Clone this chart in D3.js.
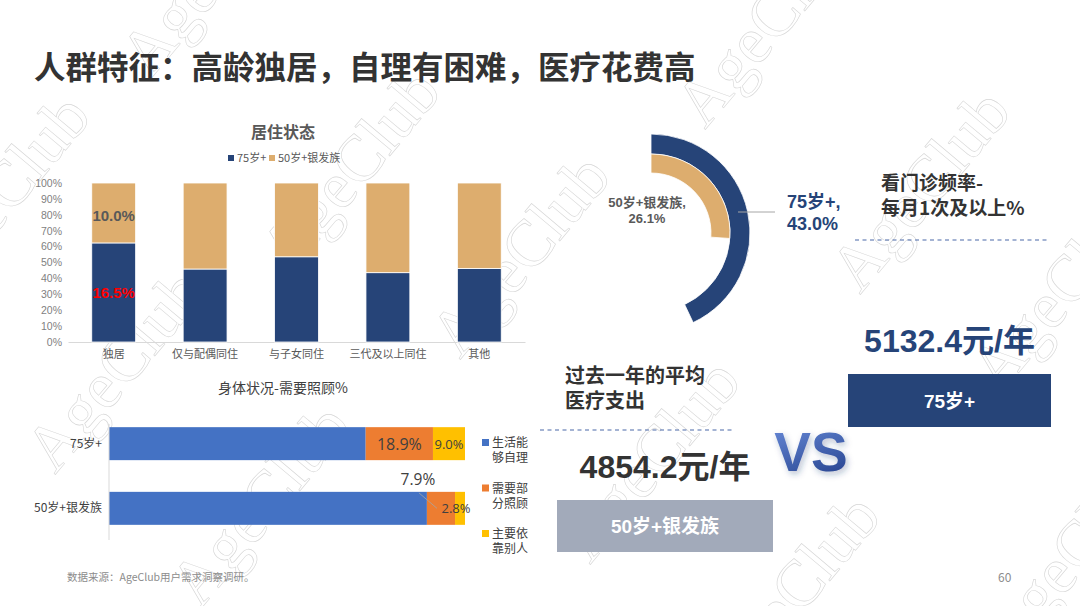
<!DOCTYPE html>
<html>
<head>
<meta charset="utf-8">
<script src="https://cdn.jsdelivr.net/npm/d3@7"></script>
<style>
  body { margin: 0; background: #fff; }
  svg { display: block; }
</style>
</head>
<body>
<svg id="chart"></svg>
<script>
// 居住状态 (100% stacked, shares of each group)
var livingCats = ['独居', '仅与配偶同住', '与子女同住', '三代及以上同住', '其他'];
var living75 = [62.3, 45.9, 53.6, 43.6, 46.3];
var living50 = [37.7, 54.1, 46.4, 56.4, 53.7];
var livingSeries = ['75岁+', '50岁+银发族'];
var livingRawLabels = ['16.5%', '10.0%'];   // raw values shown on 独居

// 身体状况-需要照顾%
var careGroups = ['75岁+', '50岁+银发族'];
var careSelf = [72.1, 89.3];
var carePart = [18.9, 7.9];
var careRely = [9.0, 2.8];
var careLegend = [['生活能', '够自理'], ['需要部', '分照顾'], ['主要依', '靠别人']];

// 看门诊频率-每月1次及以上%
var visitGroups = ['75岁+', '50岁+银发族'];
var visitValues = [43.0, 26.1];

// 过去一年的平均医疗支出
var spendGroups = ['75岁+', '50岁+银发族'];
var spendValues = [5132.4, 4854.2];

// watermark anchors
var marks = [[150, 80], [290, 275], [705, 130], [-60, 300], [55, 475], [460, 360],
             [860, 295], [200, 610], [590, 565], [1000, 395], [730, 700], [1010, 660]];

var W = 1080, H = 606;
var NAVY = '#264478', TAN = '#DDAD6E';
var CJK = '"Noto Sans CJK SC", "Noto Sans", sans-serif';
var LAT = '"Liberation Sans", "Noto Sans CJK SC", sans-serif';

var svg = d3.select('#chart').attr('width', W).attr('height', H);
svg.append('rect').attr('width', W).attr('height', H).attr('fill', '#fff');

var defs = svg.append('defs');
var grad = defs.append('linearGradient').attr('id', 'vsGrad')
  .attr('x1', 0).attr('y1', 0).attr('x2', 0.4).attr('y2', 1);
grad.append('stop').attr('offset', '0%').attr('stop-color', '#6A8CDA');
grad.append('stop').attr('offset', '100%').attr('stop-color', '#2C4A96');
var shadow = defs.append('filter').attr('id', 'vsShadow')
  .attr('x', '-20%').attr('y', '-20%').attr('width', '150%').attr('height', '160%');
shadow.append('feDropShadow').attr('dx', 2).attr('dy', 3).attr('stdDeviation', 3)
  .attr('flood-color', '#1f3770').attr('flood-opacity', 0.3);

// watermarks
svg.append('g').selectAll('text')
  .data(marks)
  .enter()
  .append('text')
  .attr('transform', d => `translate(${d[0]}, ${d[1]}) rotate(-50)`)
  .attr('font-family', '"Liberation Serif", "DejaVu Serif", serif')
  .attr('font-size', 66)
  .attr('fill', 'none')
  .attr('stroke', '#d6d6d6')
  .attr('stroke-width', 0.6)
  .text('AgeClub');

// page title
svg.append('text')
  .attr('x', 34).attr('y', 79)
  .attr('font-family', CJK).attr('font-weight', 700).attr('font-size', 31.5)
  .attr('fill', '#333')
  .text('人群特征：高龄独居，自理有困难，医疗花费高');

// ---------- 居住状态 ----------
var g1 = svg.append('g');
var x1 = d3.scaleBand().domain(livingCats).range([68, 525]).paddingInner(0.52).paddingOuter(0.26);
var y1 = d3.scaleLinear().domain([0, 100]).range([342, 183]);

g1.append('text')
  .attr('x', 283).attr('y', 138).attr('text-anchor', 'middle')
  .attr('font-family', CJK).attr('font-weight', 700).attr('font-size', 16)
  .attr('fill', '#595959').text('居住状态');

var leg1 = g1.append('g').attr('font-family', CJK).attr('font-size', 11).attr('fill', '#595959');
var legX = [228, 269];
livingSeries.forEach(function(s, i) {
  leg1.append('rect').attr('x', legX[i]).attr('y', 155).attr('width', 6).attr('height', 6)
    .attr('fill', i === 0 ? NAVY : TAN);
  leg1.append('text').attr('x', legX[i] + 9).attr('y', 162).text(s);
});

g1.append('g')
  .attr('transform', 'translate(68, 0)')
  .call(d3.axisLeft(y1).ticks(10).tickSize(0).tickPadding(6).tickFormat(d => d + '%'))
  .call(g => g.select('.domain').remove())
  .selectAll('text')
  .attr('font-family', LAT).attr('font-size', 10.5).attr('fill', '#7f7f7f');

g1.append('g')
  .attr('transform', 'translate(0, 342)')
  .call(d3.axisBottom(x1).tickSize(0).tickPadding(8))
  .call(g => g.select('.domain').attr('stroke', '#d9d9d9'))
  .selectAll('text')
  .attr('font-family', CJK).attr('font-size', 11).attr('fill', '#595959');

var livingRows = livingCats.map((c, i) => ({cat: c, a: living75[i], b: living50[i]}));
var livingStack = d3.stack().keys(['a', 'b'])(livingRows);
g1.selectAll('g.ser')
  .data(livingStack)
  .enter()
  .append('g')
  .attr('class', 'ser')
  .attr('fill', (d, i) => i === 0 ? NAVY : TAN)
  .selectAll('rect')
  .data(d => d)
  .enter()
  .append('rect')
  .attr('x', d => x1(d.data.cat))
  .attr('width', x1.bandwidth())
  .attr('y', d => y1(d[1]))
  .attr('height', d => y1(d[0]) - y1(d[1]))
  .attr('stroke', '#fff')
  .attr('stroke-width', 0.8);

var first = livingStack.map(s => s[0]);
g1.append('text')
  .attr('x', x1(livingCats[0]) + x1.bandwidth() / 2)
  .attr('y', y1((first[0][0] + first[0][1]) / 2) + 6)
  .attr('text-anchor', 'middle')
  .attr('font-family', LAT).attr('font-weight', 700).attr('font-size', 15)
  .attr('fill', '#FF0000').text(livingRawLabels[0]);
g1.append('text')
  .attr('x', x1(livingCats[0]) + x1.bandwidth() / 2)
  .attr('y', y1(80) + 6)
  .attr('text-anchor', 'middle')
  .attr('font-family', LAT).attr('font-weight', 700).attr('font-size', 15)
  .attr('fill', '#595959').text(livingRawLabels[1]);

// ---------- 身体状况-需要照顾% ----------
var g2 = svg.append('g');
var x2 = d3.scaleLinear().domain([0, 100]).range([109, 465]);
var y2 = d3.scaleBand().domain(careGroups).range([411, 541]).paddingInner(0.49).paddingOuter(0.25);
var careColors = ['#4472C4', '#ED7D31', '#FFC000'];

g2.append('text')
  .attr('x', 283).attr('y', 393).attr('text-anchor', 'middle')
  .attr('font-family', CJK).attr('font-size', 14).attr('fill', '#404040')
  .text('身体状况-需要照顾%');

var careRows = careGroups.map((c, i) => ({grp: c, s: careSelf[i], p: carePart[i], r: careRely[i]}));
var careStack = d3.stack().keys(['s', 'p', 'r'])(careRows);
g2.selectAll('g.ser')
  .data(careStack)
  .enter()
  .append('g')
  .attr('class', 'ser')
  .attr('fill', (d, i) => careColors[i])
  .selectAll('rect')
  .data(d => d)
  .enter()
  .append('rect')
  .attr('x', d => x2(d[0]))
  .attr('width', d => x2(d[1]) - x2(d[0]))
  .attr('y', d => y2(d.data.grp))
  .attr('height', y2.bandwidth());

g2.append('line')
  .attr('x1', x2(0)).attr('x2', x2(0)).attr('y1', 424).attr('y2', 540)
  .attr('stroke', '#d9d9d9');

g2.append('g')
  .attr('transform', `translate(${x2(0)}, 0)`)
  .call(d3.axisLeft(y2).tickSize(0).tickPadding(7))
  .call(g => g.select('.domain').remove())
  .selectAll('text')
  .attr('font-family', CJK).attr('font-size', 12).attr('fill', '#404040');

// value labels
var lblFont = '"Open Sans", "Noto Sans", sans-serif';
var c0 = careStack[1][0], c1 = careStack[2][0];
var mid0 = y2(careGroups[0]) + y2.bandwidth() / 2;
var mid1 = y2(careGroups[1]) + y2.bandwidth() / 2;
g2.append('text')
  .attr('x', x2((c0[0] + c0[1]) / 2)).attr('y', mid0 + 6).attr('text-anchor', 'middle')
  .attr('font-family', lblFont).attr('font-size', 16).attr('fill', '#404040')
  .text(d3.format('.1f')(carePart[0]) + '%');
g2.append('text')
  .attr('x', x2((c1[0] + c1[1]) / 2)).attr('y', mid0 + 5).attr('text-anchor', 'middle')
  .attr('font-family', lblFont).attr('font-size', 13).attr('fill', '#404040')
  .text(d3.format('.1f')(careRely[0]) + '%');

var p1 = careStack[1][1], r1 = careStack[2][1];
g2.append('line')
  .attr('x1', x2(p1[0]) - 8).attr('y1', y2(careGroups[1]) + 1)
  .attr('x2', x2((p1[0] + p1[1]) / 2) - 4).attr('y2', mid1)
  .attr('stroke', '#a6a6a6').attr('stroke-width', 0.8);
g2.append('text')
  .attr('x', x2(p1[0]) - 9).attr('y', y2(careGroups[1]) - 7).attr('text-anchor', 'middle')
  .attr('font-family', lblFont).attr('font-size', 15.5).attr('fill', '#404040')
  .text(d3.format('.1f')(carePart[1]) + '%');
g2.append('text')
  .attr('x', x2((r1[0] + r1[1]) / 2) - 4).attr('y', mid1 + 5).attr('text-anchor', 'middle')
  .attr('font-family', lblFont).attr('font-size', 13).attr('fill', '#404040')
  .text(d3.format('.1f')(careRely[1]) + '%');

var leg2 = g2.append('g').attr('font-family', CJK).attr('font-size', 12).attr('fill', '#404040');
careLegend.forEach(function(lines, i) {
  var ly = 443 + i * 45.5;
  leg2.append('rect').attr('x', 482).attr('y', ly - 4).attr('width', 7).attr('height', 7)
    .attr('fill', careColors[i]);
  lines.forEach(function(t, j) {
    leg2.append('text').attr('x', 492).attr('y', ly + 4 + j * 15).text(t);
  });
});

// ---------- 看门诊频率 (radial bars) ----------
var g3 = svg.append('g').attr('transform', 'translate(651, 233)');
var ang = d3.scaleLinear().domain([0, 100]).range([0, 2 * Math.PI]);
var rings = [[79, 99], [60, 79]];
var ringColors = [NAVY, TAN];
g3.selectAll('path')
  .data(visitValues)
  .enter()
  .append('path')
  .attr('d', (d, i) => d3.arc()
    .innerRadius(rings[i][0]).outerRadius(rings[i][1])
    .startAngle(0).endAngle(ang(d))())
  .attr('fill', (d, i) => ringColors[i])
  .attr('stroke', '#fff')
  .attr('stroke-width', 0.8);

g3.append('line')
  .attr('x1', 87).attr('x2', 124).attr('y1', -21).attr('y2', -21)
  .attr('stroke', '#a6a6a6').attr('stroke-width', 1);
g3.append('text')
  .attr('x', 136).attr('y', -25)
  .attr('font-family', LAT).attr('font-weight', 700).attr('font-size', 18).attr('fill', NAVY)
  .text(visitGroups[0] + ',');
g3.append('text')
  .attr('x', 136).attr('y', -3)
  .attr('font-family', LAT).attr('font-weight', 700).attr('font-size', 18).attr('fill', NAVY)
  .text(d3.format('.1f')(visitValues[0]) + '%');
g3.append('text')
  .attr('x', -4).attr('y', -26).attr('text-anchor', 'middle')
  .attr('font-family', LAT).attr('font-weight', 700).attr('font-size', 13).attr('fill', '#595959')
  .text(visitGroups[1] + ',');
g3.append('text')
  .attr('x', -4).attr('y', -10).attr('text-anchor', 'middle')
  .attr('font-family', LAT).attr('font-weight', 700).attr('font-size', 13).attr('fill', '#595959')
  .text(d3.format('.1f')(visitValues[1]) + '%');

svg.append('text')
  .attr('x', 881).attr('y', 190)
  .attr('font-family', CJK).attr('font-weight', 700).attr('font-size', 19).attr('fill', '#333')
  .text('看门诊频率-');
svg.append('text')
  .attr('x', 881).attr('y', 215)
  .attr('font-family', CJK).attr('font-weight', 700).attr('font-size', 19).attr('fill', '#333')
  .text('每月1次及以上%');
svg.append('line')
  .attr('x1', 855).attr('x2', 1048).attr('y1', 240).attr('y2', 240)
  .attr('stroke', '#4a69a8').attr('stroke-width', 1.2).attr('stroke-dasharray', '4,3.5');

// ---------- 医疗支出 ----------
var boxes = [
  {x: 848, y: 374, w: 203, h: 53, fill: NAVY, vy: 352, vc: NAVY},
  {x: 557, y: 500, w: 216, h: 52, fill: '#A2AABA', vy: 478, vc: '#333'}
];
var g4 = svg.append('g');
g4.selectAll('rect.box')
  .data(boxes)
  .enter()
  .append('rect')
  .attr('class', 'box')
  .attr('x', d => d.x).attr('y', d => d.y)
  .attr('width', d => d.w).attr('height', d => d.h)
  .attr('fill', d => d.fill);
g4.selectAll('text.grp')
  .data(boxes)
  .enter()
  .append('text')
  .attr('class', 'grp')
  .attr('x', d => d.x + d.w / 2).attr('y', d => d.y + d.h / 2 + 7)
  .attr('text-anchor', 'middle')
  .attr('font-family', LAT).attr('font-weight', 700).attr('font-size', 19).attr('fill', '#fff')
  .text((d, i) => spendGroups[i]);
g4.selectAll('text.val')
  .data(boxes)
  .enter()
  .append('text')
  .attr('class', 'val')
  .attr('x', d => d.x + d.w / 2).attr('y', d => d.vy)
  .attr('text-anchor', 'middle')
  .attr('font-family', LAT).attr('font-weight', 700).attr('font-size', 32).attr('fill', d => d.vc)
  .text((d, i) => d3.format('.1f')(spendValues[i]) + '元/年');

svg.append('text')
  .attr('x', 565).attr('y', 383)
  .attr('font-family', CJK).attr('font-weight', 700).attr('font-size', 20).attr('fill', '#333')
  .text('过去一年的平均');
svg.append('text')
  .attr('x', 565).attr('y', 408)
  .attr('font-family', CJK).attr('font-weight', 700).attr('font-size', 20).attr('fill', '#333')
  .text('医疗支出');
svg.append('line')
  .attr('x1', 540).attr('x2', 732).attr('y1', 430).attr('y2', 430)
  .attr('stroke', '#4a69a8').attr('stroke-width', 1.2).attr('stroke-dasharray', '4,3.5');

svg.append('text')
  .attr('x', 811).attr('y', 471).attr('text-anchor', 'middle')
  .attr('font-family', LAT).attr('font-weight', 700).attr('font-size', 55)
  .attr('fill', 'url(#vsGrad)').attr('filter', 'url(#vsShadow)')
  .text('VS');

// footer
svg.append('text')
  .attr('x', 67).attr('y', 581)
  .attr('font-family', CJK).attr('font-size', 10.5).attr('fill', '#8c8c8c')
  .text('数据来源：AgeClub用户需求洞察调研。');
svg.append('text')
  .attr('x', 998).attr('y', 582)
  .attr('font-family', CJK).attr('font-size', 12).attr('fill', '#8c8c8c')
  .text('60');
</script>
</body>
</html>
